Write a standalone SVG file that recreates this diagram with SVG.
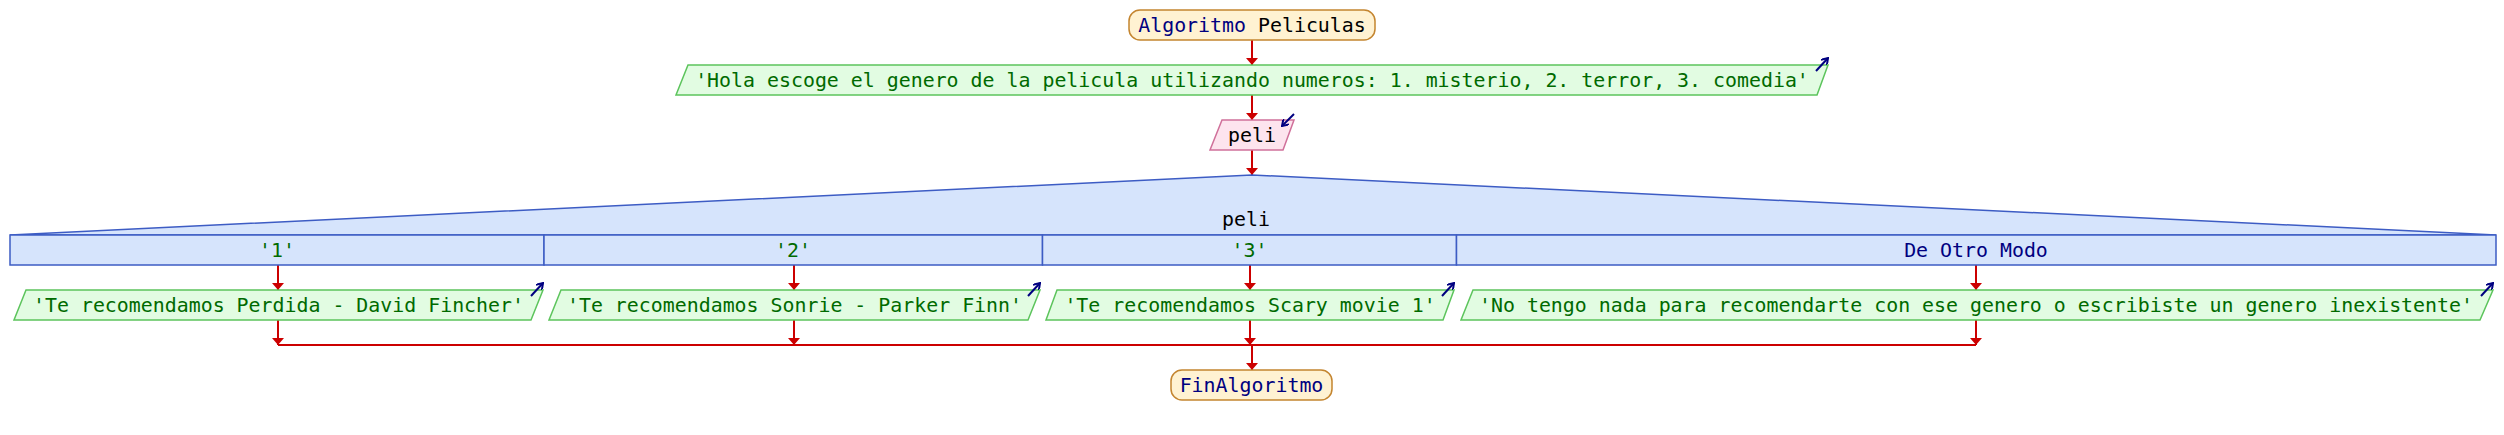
<svg xmlns="http://www.w3.org/2000/svg" width="2504" height="435" viewBox="0 0 2504 435">
<style>
text{font-family:"DejaVu Sans Mono","Liberation Mono",monospace;font-size:19.9px}
.kw{fill:#000080}
.str{fill:#006a00}
.plain{fill:#000000}
.term{fill:#fff2d2;stroke:#c4852f;stroke-width:1.5}
.out{fill:#e2fce2;stroke:#5cc45c;stroke-width:1.5}
.inp{fill:#fde4ee;stroke:#d0709a;stroke-width:1.5}
.sw{fill:#d6e4fc;stroke:#3d5cc4;stroke-width:1.5}
.flow{fill:none;stroke:#cc0000;stroke-width:2}
.ico{fill:none;stroke:#000080;stroke-width:2}
</style>
<defs>
<marker id="ah" viewBox="0 0 7 12" refX="7" refY="6" markerWidth="7" markerHeight="12" markerUnits="userSpaceOnUse" orient="auto">
<path d="M0,0 L7,6 L0,12 z" fill="#cc0000"/>
</marker>
<marker id="ic" viewBox="0 0 8 8" refX="7" refY="4" markerWidth="8" markerHeight="8" markerUnits="userSpaceOnUse" orient="auto">
<path d="M1,0 L7,4 L1,8" fill="none" stroke="#000080" stroke-width="2"/>
</marker>
</defs>
<g id="connectors">
<line class="flow" x1="1252" y1="40" x2="1252" y2="65" marker-end="url(#ah)"/>
<line class="flow" x1="1252" y1="95" x2="1252" y2="120" marker-end="url(#ah)"/>
<line class="flow" x1="1252" y1="150" x2="1252" y2="175" marker-end="url(#ah)"/>
<line class="flow" x1="278" y1="265" x2="278" y2="290" marker-end="url(#ah)"/>
<line class="flow" x1="794" y1="265" x2="794" y2="290" marker-end="url(#ah)"/>
<line class="flow" x1="1250" y1="265" x2="1250" y2="290" marker-end="url(#ah)"/>
<line class="flow" x1="1976" y1="265" x2="1976" y2="290" marker-end="url(#ah)"/>
<line class="flow" x1="278" y1="320" x2="278" y2="345" marker-end="url(#ah)"/>
<line class="flow" x1="794" y1="320" x2="794" y2="345" marker-end="url(#ah)"/>
<line class="flow" x1="1250" y1="320" x2="1250" y2="345" marker-end="url(#ah)"/>
<line class="flow" x1="1976" y1="320" x2="1976" y2="345" marker-end="url(#ah)"/>
<line class="flow" x1="278" y1="345" x2="1976" y2="345"/>
<line class="flow" x1="1252" y1="345" x2="1252" y2="370" marker-end="url(#ah)"/>
</g>
<g id="start">
<rect class="term" x="1129" y="10" width="246" height="30" rx="11" ry="11"/>
<text x="1252" y="32" text-anchor="middle"><tspan class="kw">Algoritmo</tspan><tspan class="plain"> Peliculas</tspan></text>
</g>
<g id="out0">
<polygon class="out" points="688,65 1828,65 1817,95 676,95"/>
<text class="str" x="1252" y="87" text-anchor="middle">'Hola escoge el genero de la pelicula utilizando numeros: 1. misterio, 2. terror, 3. comedia'</text>
<line class="ico" x1="1816" y1="71" x2="1828" y2="58" marker-end="url(#ic)"/>
</g>
<g id="input">
<polygon class="inp" points="1222,120 1294,120 1283,150 1210,150"/>
<text class="plain" x="1252" y="142" text-anchor="middle">peli</text>
<line class="ico" x1="1294" y1="114" x2="1282" y2="126" marker-end="url(#ic)"/>
</g>
<g id="switch">
<polygon class="sw" points="1252,175 2496,235 10,235"/>
<text class="plain" x="1246" y="226" text-anchor="middle">peli</text>
<rect class="sw" x="10" y="235" width="534" height="30"/>
<rect class="sw" x="544" y="235" width="498.5" height="30"/>
<rect class="sw" x="1042.5" y="235" width="414" height="30"/>
<rect class="sw" x="1456.5" y="235" width="1039.5" height="30"/>
<text class="str" x="277" y="257" text-anchor="middle">'1'</text>
<text class="str" x="793" y="257" text-anchor="middle">'2'</text>
<text class="str" x="1249.5" y="257" text-anchor="middle">'3'</text>
<text class="kw" x="1976" y="257" text-anchor="middle">De Otro Modo</text>
</g>
<g id="out1">
<polygon class="out" points="26,290 543,290 531,320 14,320"/>
<text class="str" x="278.5" y="312" text-anchor="middle">'Te recomendamos Perdida - David Fincher'</text>
<line class="ico" x1="531" y1="296" x2="543" y2="283" marker-end="url(#ic)"/>
</g>
<g id="out2">
<polygon class="out" points="561,290 1040,290 1028,320 549,320"/>
<text class="str" x="794.5" y="312" text-anchor="middle">'Te recomendamos Sonrie - Parker Finn'</text>
<line class="ico" x1="1028" y1="296" x2="1040" y2="283" marker-end="url(#ic)"/>
</g>
<g id="out3">
<polygon class="out" points="1057,290 1454,290 1443,320 1046,320"/>
<text class="str" x="1250" y="312" text-anchor="middle">'Te recomendamos Scary movie 1'</text>
<line class="ico" x1="1442" y1="296" x2="1454" y2="283" marker-end="url(#ic)"/>
</g>
<g id="out4">
<polygon class="out" points="1473,290 2493,290 2480,320 1461,320"/>
<text class="str" x="1976" y="312" text-anchor="middle">'No tengo nada para recomendarte con ese genero o escribiste un genero inexistente'</text>
<line class="ico" x1="2481" y1="296" x2="2493" y2="283" marker-end="url(#ic)"/>
</g>
<g id="end">
<rect class="term" x="1171" y="370" width="161" height="30" rx="11" ry="11"/>
<text class="kw" x="1251.5" y="392" text-anchor="middle">FinAlgoritmo</text>
</g>
</svg>
